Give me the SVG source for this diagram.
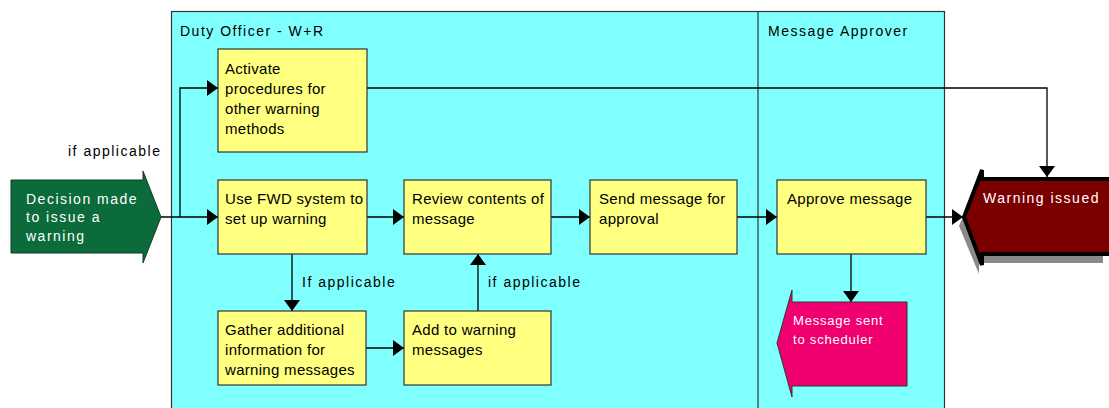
<svg xmlns="http://www.w3.org/2000/svg" width="1109" height="408" viewBox="0 0 1109 408">
<defs>
<marker id="ah" markerUnits="userSpaceOnUse" markerWidth="12" markerHeight="16" refX="11" refY="8" orient="auto">
<path d="M0,0 L11,8 L0,16 z" fill="#000"/>
</marker>
</defs>
<style>
.box{fill:#FFFF80;stroke:#333;stroke-width:1.2}
.t{font-family:"Liberation Sans",Arial,sans-serif;font-size:15px;letter-spacing:0.3px;fill:#000}
.lbl{font-family:"Liberation Sans",Arial,sans-serif;font-size:14px;letter-spacing:1.5px;fill:#000}
.wt{font-family:"Liberation Sans",Arial,sans-serif;font-size:14px;letter-spacing:1.5px;fill:#fff}
.con{fill:none;stroke:#000;stroke-width:1.3;marker-end:url(#ah)}
</style>
<rect width="1109" height="408" fill="#fff"/>
<g id="lanes">
<rect x="171.5" y="11.5" width="773" height="400" fill="#80FFFF" stroke="#333" stroke-width="1.2"/>
<line x1="758" y1="11.5" x2="758" y2="410" stroke="#333" stroke-width="1.2"/>
<text class="lbl" x="180" y="36">Duty Officer - W+R</text>
<text class="lbl" x="768" y="36">Message Approver</text>
</g>
<g id="connectors">
<path class="con" d="M161,217 H218"/>
<path class="con" d="M180,217 V88 H218"/>
<path class="con" d="M367,88 H1047 V177"/>
<path class="con" d="M367,217 H404"/>
<path class="con" d="M551,217 H590"/>
<path class="con" d="M737,217 H777"/>
<path class="con" d="M926,217 H963"/>
<path class="con" d="M292,254 V311"/>
<path class="con" d="M366,348 H404"/>
<path class="con" d="M478,311 V254"/>
<path class="con" d="M851,254 V302"/>
<text class="lbl" x="68" y="156">if applicable</text>
<text class="lbl" x="302" y="287">If applicable</text>
<text class="lbl" x="488" y="287">if applicable</text>
</g>
<g id="decision">
<polygon points="11,180 143,180 143,171 161,217 143,263 143,253 11,253" fill="#0B6B3A" stroke="#0a3f22" stroke-width="1"/>
<text class="wt" x="26" y="204">Decision made</text>
<text class="wt" x="26" y="222">to issue a</text>
<text class="wt" x="26" y="241">warning</text>
</g>
<g id="activate">
<rect class="box" x="218" y="49" width="149" height="103"/>
<text class="t" x="225" y="74">Activate</text>
<text class="t" x="225" y="94">procedures for</text>
<text class="t" x="225" y="114">other warning</text>
<text class="t" x="225" y="134">methods</text>
</g>
<g id="usefwd">
<rect class="box" x="218" y="180" width="149" height="74"/>
<text class="t" x="225" y="204">Use FWD system to</text>
<text class="t" x="225" y="224">set up warning</text>
</g>
<g id="review">
<rect class="box" x="404" y="180" width="147" height="74"/>
<text class="t" x="412" y="204">Review contents of</text>
<text class="t" x="412" y="224">message</text>
</g>
<g id="send">
<rect class="box" x="590" y="180" width="147" height="74"/>
<text class="t" x="599" y="204">Send message for</text>
<text class="t" x="599" y="224">approval</text>
</g>
<g id="gather">
<rect class="box" x="218" y="311" width="148" height="74"/>
<text class="t" x="225" y="335">Gather additional</text>
<text class="t" x="225" y="355">information for</text>
<text class="t" x="225" y="375">warning messages</text>
</g>
<g id="add">
<rect class="box" x="404" y="311" width="147" height="74"/>
<text class="t" x="412" y="335">Add to warning</text>
<text class="t" x="412" y="355">messages</text>
</g>
<g id="approve">
<rect class="box" x="777" y="180" width="149" height="74"/>
<text class="t" x="787" y="204">Approve message</text>
</g>
<g id="scheduler">
<polygon points="907,302 792,302 792,290 777,343 792,397 792,386 907,386" fill="#F0006E" stroke="#333" stroke-width="1"/>
<text class="wt" style="font-size:13px;letter-spacing:0.8px" x="793" y="325">Message sent</text>
<text class="wt" style="font-size:13px;letter-spacing:0.8px" x="793" y="344">to scheduler</text>
</g>
<g id="warning">
<polygon points="1103,188 979,188 979,179 959,226 979,274 979,263 1103,263" fill="#8a8a8a"/>
<polygon points="1112,179 982,179 982,170 964,217 982,265 982,254 1112,254" fill="#7A0000" stroke="#000" stroke-width="4" stroke-linejoin="miter"/>
<text class="wt" x="983" y="203">Warning issued</text>
</g>
</svg>
